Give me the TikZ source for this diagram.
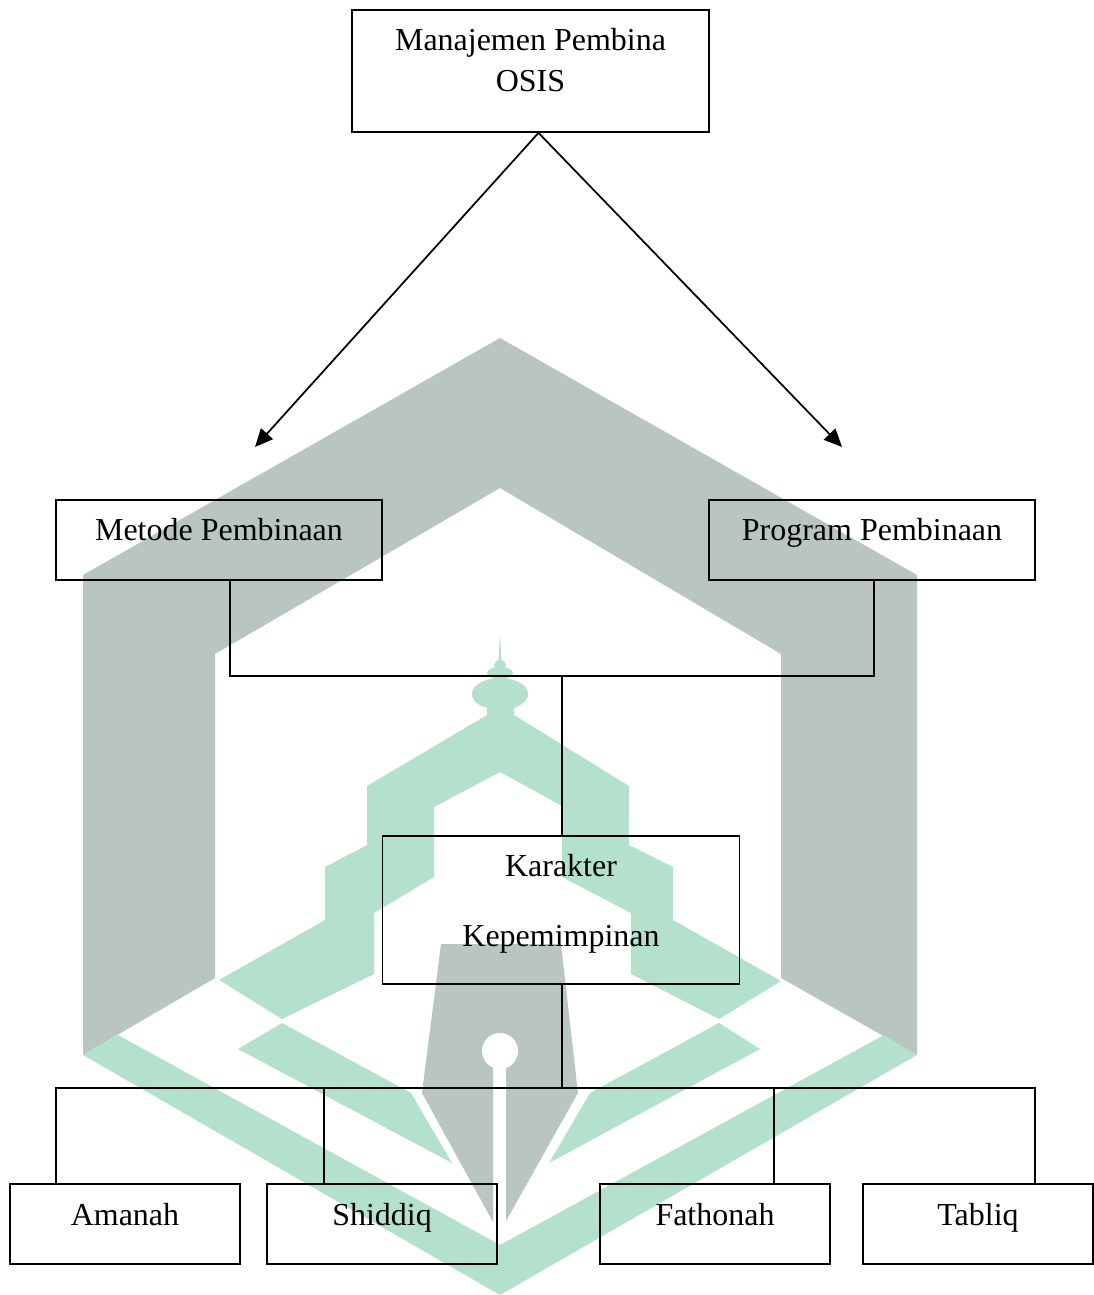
\documentclass[tikz,border=0pt]{standalone}
\usepackage{fontspec}
\setmainfont{Liberation Serif}
\usetikzlibrary{arrows.meta}
\definecolor{abu}{HTML}{B8C5C0}
\definecolor{hijau}{HTML}{B3E1CB}
\tikzset{
  kotak/.style={draw,inner sep=0pt,align=center,line width=1pt,font=\fontsize{18.2}{23.9}\selectfont},
  kotakatas/.style={kotak,minimum width=7.14cm,text height=1.64cm,text depth=0.8cm},
  kotakmid/.style={kotak,minimum width=6.52cm,text height=0.8cm,text depth=0.8cm},
  kotakkecil/.style={kotak,minimum width=4.6cm,text height=0.82cm,text depth=0.78cm},
  garis/.style={line width=1pt},
  panah/.style={garis,-{Triangle[length=0.36cm,width=0.32cm]}}
}
\begin{document}
\begin{tikzpicture}[x=0.02cm,y=-0.02cm]
      \useasboundingbox (0,0) rectangle (1094,1295);
      % watermark
      \fill[abu] (500,338) -- (917,575) -- (917,1055) -- (781,978) -- (781,654) -- (500,488) -- (215,654) -- (215,978) -- (83,1055) -- (83,575) -- cycle;
      \fill[hijau] (83,1055) -- (118,1035) -- (500,1245) -- (884,1035) -- (917,1055) -- (500,1295) -- cycle;
      \fill[hijau] (500,635) -- (501.5,660) -- (506,678) -- (514,710) -- (514,715) -- (629,786) -- (629,845) -- (673,867) -- (673,920) -- (781,981) -- (719,1019) -- (631,974) -- (631,913) -- (562,877) -- (562,806) -- (500,772) -- (434,807) -- (434,877) -- (374,913) -- (374,974) -- (282,1019) -- (219,980) -- (325,920) -- (325,867) -- (367,845) -- (367,786) -- (487,715) -- (487,710) -- (494,678) -- (498.5,660) -- cycle;
      \fill[hijau] (500,694) ellipse (28 and 16);
      \fill[hijau] (500,673) ellipse (13 and 6);
      \fill[hijau] (500,665) ellipse (6 and 5);
      \fill[hijau] (282,1023) -- (411,1093) -- (452,1163) -- (238,1049) -- cycle;
      \fill[hijau] (719,1023) -- (760,1049) -- (549,1163) -- (590,1093) -- cycle;
      \fill[abu] (441,944) -- (561,944) -- (578,1093) -- (506,1221) -- (506,1060) -- (493,1060) -- (493,1222) -- (422,1093) -- cycle;
      \fill[white] (500,1051) circle (18);
      % kotak
      \node[kotakatas] (manajemen) at (530.5,71) {Manajemen Pembina\\OSIS};
      \node[kotakmid] (metode) at (219,540) {Metode Pembinaan};
      \node[kotakmid] (program) at (872,540) {Program Pembinaan};
      \node[kotak,minimum width=7.14cm,text height=2.2cm,text depth=0.76cm] (karakter) at (561,910) {Karakter\\[15.9pt]Kepemimpinan};
      \node[kotakkecil] (amanah) at (125,1224) {Amanah};
      \node[kotakkecil] (shiddiq) at (382,1224) {Shiddiq};
      \node[kotakkecil] (fathonah) at (715,1224) {Fathonah};
      \node[kotakkecil] (tabliq) at (978,1224) {Tabliq};
      % garis
      \coordinate (ujungkiri) at (255,447);
      \coordinate (ujungkanan) at (842,447);
      \coordinate (atas) at (562,676);
      \coordinate (bawah) at (562,1088);
      \draw[panah] ([xshift=0.16cm]manajemen.south) -- (ujungkiri);
      \draw[panah] ([xshift=0.16cm]manajemen.south) -- (ujungkanan);
      \draw[garis] ([xshift=0.22cm]metode.south) |- (atas);
      \draw[garis] ([xshift=0.04cm]program.south) |- (atas);
      \draw[garis] (atas) -- ([xshift=0.02cm]karakter.north);
      \draw[garis] ([xshift=0.02cm]karakter.south) -- (bawah);
      \draw[garis] (bawah) -| ([xshift=-1.38cm]amanah.north);
      \draw[garis] (bawah) -| ([xshift=-1.16cm]shiddiq.north);
      \draw[garis] (bawah) -| ([xshift=1.18cm]fathonah.north);
      \draw[garis] (bawah) -| ([xshift=1.14cm]tabliq.north);
\end{tikzpicture}
\end{document}
